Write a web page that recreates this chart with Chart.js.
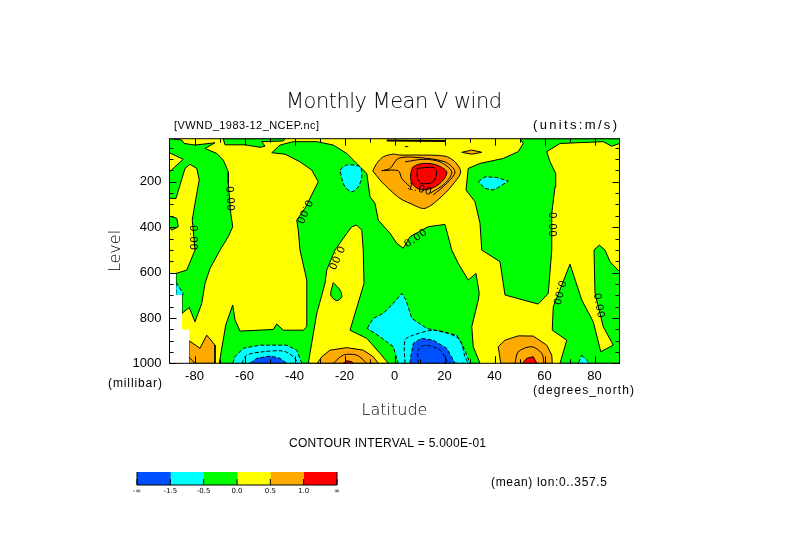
<!DOCTYPE html>
<html>
<head>
<meta charset="utf-8">
<title>Monthly Mean V wind</title>
<script src="https://cdn.jsdelivr.net/npm/chart.js@4"></script>
<style>
  body { margin: 0; background: #fff; }
  #wrap { position: relative; width: 789px; height: 558px; }
  canvas { position: absolute; display: block; }
</style>
</head>
<body>
<div id="wrap">
  <canvas id="windChart" width="789" height="558" style="left:0;top:0"></canvas>
  <canvas id="scaleChart" width="240" height="40" style="left:120px;top:460px"></canvas>
</div>
<script>
// axis ticks
const latLabels = [-80, -60, -40, -20, 0, 20, 40, 60, 80];
const levelLabels = [200, 400, 600, 800, 1000];
const latMinor = [-70, -50, -30, -10, 10, 30, 50, 70];
const levelMinor = [50, 100, 150, 250, 300, 350, 450, 500, 550, 650, 700, 750, 850, 900, 950];

// filled contour regions, [latitude, level]
const plotArea = [[-90, 10], [90, 10], [90, 1000], [-90, 1000]];
const greenWest = [[-90, 10], [-85.1, 16], [-84.2, 31], [-79.8, 38], [-71.8, 28], [-75.8, 53], [-71.1, 75], [-68.5, 104], [-66.5, 156], [-66.5, 207], [-65.5, 339], [-64.7, 398], [-66.5, 442], [-69.8, 501], [-73.8, 582], [-75.8, 648], [-77.1, 736], [-79.8, 817], [-82.1, 754], [-85, 780], [-85, 699], [-87.4, 648], [-87.4, 604], [-83.1, 589], [-79.8, 501], [-80.5, 413], [-80.9, 369], [-79.8, 295], [-78.1, 192], [-79.1, 141], [-81.8, 123], [-83.8, 141], [-87.4, 273], [-90, 273], [-90, 156], [-84.5, 101], [-90, 72]];
const greenTop = [[-68.5, 10], [-43.8, 10], [-44.5, 20], [-53.1, 23], [-51.8, 43], [-53.8, 48], [-59.8, 37], [-67.8, 37]];
const greenCentral = [[-49.1, 72], [-45.8, 38], [-40.5, 23], [-31.1, 23], [-24.5, 38], [-19.1, 75], [-15.1, 119], [-11.1, 163], [-9.8, 266], [-7.8, 295], [-6.5, 369], [-1.8, 427], [0.9, 471], [3.5, 493], [6.2, 442], [13.5, 398], [20.2, 388], [21.5, 442], [22.9, 501], [25.5, 560], [29.5, 633], [32.6, 604], [33.9, 692], [33.5, 721], [30.9, 839], [31.5, 927], [34.2, 1000], [-70.1, 1000], [-67.5, 831], [-64.7, 743], [-63.8, 809], [-61.8, 858], [-48.5, 851], [-47.1, 827], [-44.5, 854], [-36.5, 854], [-35.1, 839], [-35.1, 633], [-37.8, 501], [-38.5, 413], [-39.1, 369], [-35.8, 317], [-30.5, 200], [-33.1, 148], [-37.8, 112], [-43.8, 78]];
const yellowFinger = [[-15.1, 391], [-13.1, 413], [-12.5, 501], [-12.2, 648], [-13.8, 707], [-17.8, 854], [-11.1, 890], [-5.8, 956], [-2.5, 1000], [-34.5, 1000], [-31.1, 780], [-27.8, 648], [-27.1, 589], [-23.8, 501], [-19.1, 427], [-17.1, 398]];
const greenEast = [[50.2, 10], [51.5, 31], [49.5, 67], [43.5, 97], [34.2, 119], [29.5, 141], [28.6, 236], [32.2, 288], [34.2, 383], [34.9, 501], [42.2, 552], [44.2, 699], [57.5, 739], [61.5, 692], [62.9, 501], [62.9, 339], [64.2, 222], [64.5, 163], [62.2, 112], [60.9, 67], [66.2, 31], [83.5, 23], [86.9, 43], [90, 31], [90, 10]];
const greenFarEast = [[81.9, 479], [84.2, 501], [86.2, 552], [90, 596], [90, 1000], [66.2, 1000], [68.9, 898], [63.1, 854], [63.5, 751], [70.2, 563], [74.9, 721], [79.5, 817], [82.5, 949], [87.5, 920], [83.5, 839], [80.2, 692], [79.8, 501]];
const greenOval = [[-24.5, 645], [-21.8, 677], [-21.1, 707], [-23.1, 724], [-25.5, 699]];
const greenIslet = [[-90, 351], [-87.1, 361], [-86.5, 398], [-89.1, 413], [-90, 398]];
const cyanUpperSouth = [[-21.8, 148], [-19.1, 126], [-13.8, 134], [-13.1, 178], [-14.5, 222], [-17.1, 244], [-19.8, 222], [-21.1, 185]];
const cyanUpperNorth = [[33.5, 200], [36.2, 178], [40.9, 181], [45.5, 197], [41.5, 225], [39.5, 236], [36.2, 229]];
const cyanPole = [[-87.4, 643], [-84.5, 692], [-85, 704], [-87.4, 699]];
const cyanEquator = [[-10.9, 846], [-8.5, 802], [-4.5, 780], [-0.5, 736], [2.9, 692], [4.6, 721], [6.9, 802], [12.9, 846], [24.9, 876], [27.5, 927], [30.2, 1000], [1.5, 1000], [-0.5, 927], [-5.8, 883]];
const cyanSouth = [[-64.7, 1000], [-63.8, 971], [-60.5, 934], [-53.8, 920], [-43.1, 920], [-39.1, 942], [-37.1, 1000]];
const cyanNorth = [[74.9, 964], [78.2, 1000], [73.5, 1000]];
const blueSouth = [[-57.8, 1000], [-55.1, 978], [-49.8, 968], [-45.8, 978], [-43.1, 1000]];
const blueEquator = [[6.2, 1000], [6.5, 971], [7.5, 912], [10.9, 890], [15.5, 898], [20.9, 934], [24.2, 1000]];
const orangeUpper = [[-8.7, 151], [-7.1, 119], [-4.5, 90], [-0.5, 78], [2.2, 82], [8.9, 82], [20.2, 87], [24.2, 112], [26.5, 156], [24.2, 200], [19.5, 258], [12.2, 317], [6.2, 295], [2.2, 273], [-1.8, 236], [-5.8, 192]];
const orangeTiny = [[26.9, 70], [30.9, 60], [34.9, 70], [30.9, 78]];
const orangeWest = [[-82.1, 901], [-77.8, 934], [-75.1, 876], [-71.8, 920], [-71.8, 1000], [-82.1, 1000]];
const orangeMid = [[-30.9, 1000], [-29.1, 971], [-25.8, 942], [-19.1, 931], [-12.5, 942], [-8.5, 971], [-6.5, 1000]];
const orangeEast = [[42.5, 1000], [41.5, 927], [44.2, 898], [49.5, 879], [55.5, 880], [60.9, 920], [62.9, 964], [63.1, 1000]];
const redUpper = [[6.5, 163], [7.5, 134], [11.5, 119], [16.9, 126], [20.9, 156], [19.5, 192], [16.2, 222], [11.5, 236], [8.2, 222], [6.5, 192]];
const redMid = [[-20.5, 1000], [-19.1, 989], [-17.1, 993], [-16.5, 1000]];
const redEast = [[51.3, 1000], [52.9, 978], [55.5, 971], [56.9, 1000]];
const missingData = [[-90, 601], [-87.4, 601], [-87.4, 699], [-85, 699], [-85, 851], [-82.1, 851], [-82.1, 1000], [-90, 1000]];

// unfilled contours
const lineRedInner = [[9.1, 141], [15.5, 137], [16.9, 156], [15.5, 200], [10.5, 207], [9.1, 178], [9.1, 141]];
const lineOrangeRing = [[4.2, 112], [11.5, 101], [18.2, 112], [22.9, 156], [20.2, 207], [14.2, 251]];
const lineOrangeOuter = [[-5.1, 151], [-1.8, 141], [1.5, 97], [8, 92], [20.2, 112], [24.2, 156], [20.9, 207], [15.5, 258]];
const lineOrangeInner = [[-5.1, 151], [1.5, 151], [2.9, 185], [6.2, 222]];
const lineMid = [[-24.5, 1000], [-20.5, 964], [-15.1, 964], [-11.1, 1000]];
const lineEast = [[48.2, 1000], [49.5, 949], [54.9, 927], [58.9, 956], [59.8, 1000]];
const lineWest = [[-82.1, 974], [-79.8, 1000]];
const lineTop = [[-3.1, 18], [20.2, 20]];
const lineTopShort = [[4.2, 45], [5.5, 45]];
const dashSouth = [[-61.1, 1000], [-59.1, 964], [-52.5, 949], [-44.5, 946], [-40.5, 971], [-38.5, 1000]];
const dashEquator = [[4.2, 1000], [4.2, 898], [7.5, 876], [15.5, 854], [21.5, 868], [26.2, 898], [28.2, 971], [29.5, 1000]];
const dashEquatorInner = [[9.5, 1000], [9.5, 942], [12.2, 920], [18.2, 942], [21.5, 1000]];

// contour labels
const labelLats = [-65.8, -80.6, -36.2, -23.4, 8.6, 63, 65.8, 81.8, 10.2];
const labelLevels = [276, 448, 333, 536, 448, 390, 690, 747, 232];
const labelTexts = ['0.00', '0.00', '0.00', '0.00', '0.00', '0.00', '0.00', '0.00', '1.00'];
const labelAngles = [87, 90, 115, 115, -35, 90, 105, 80, 15];

// colour bar
const scaleBins = [1, 1, 1, 1, 1, 1];
const scaleLabels = ['-∞', '-1.5', '-0.5', '0.0', '0.5', '1.0', '∞'];

const BLUE = '#0050ff', CYAN = '#00ffff', GREEN = '#00ff00';
const YELLOW = '#ffff00', ORANGE = '#ffaa00', RED = '#ff0000';
const scaleColors = [BLUE, CYAN, GREEN, YELLOW, ORANGE, RED];
const THIN_FONT = '"DejaVu Sans ExtraLight", "DejaVu Sans"';
const SMALL_FONT = '"Liberation Sans"';

function toPoints(poly) {
  return poly.map(p => ({ x: p[0], y: p[1] }));
}
function region(poly, color, dashed, noBorder, smooth) {
  return {
    data: toPoints(poly.concat([poly[0]])),
    showLine: true, fill: 'shape', backgroundColor: color,
    borderColor: '#000', borderWidth: noBorder ? 0 : 1,
    borderDash: dashed ? [4, 2] : [], pointRadius: 0, tension: smooth ? 0.3 : 0
  };
}
function contour(line, dashed, width) {
  return {
    data: toPoints(line), showLine: true, fill: false,
    borderColor: '#000', borderWidth: width || 1,
    borderDash: dashed ? [4, 2] : [], pointRadius: 0, tension: width ? 0 : 0.3
  };
}

// painted back to front
const layers = [
  region(plotArea, YELLOW, false, true),
  region(greenWest, GREEN), region(greenTop, GREEN), region(greenCentral, GREEN),
  region(yellowFinger, YELLOW), region(greenEast, GREEN), region(greenFarEast, GREEN),
  region(greenOval, GREEN, false, false, true), region(greenIslet, GREEN),
  region(cyanUpperSouth, CYAN, true, false, true), region(cyanUpperNorth, CYAN, true), region(cyanPole, CYAN, true),
  region(cyanEquator, CYAN, true), region(cyanSouth, CYAN, true), region(cyanNorth, CYAN, true),
  region(blueSouth, BLUE, true), region(blueEquator, BLUE, true),
  region(orangeUpper, ORANGE, false, false, true), region(orangeTiny, ORANGE), region(orangeWest, ORANGE),
  region(orangeMid, ORANGE), region(orangeEast, ORANGE),
  region(redUpper, RED, false, false, true), region(redMid, RED), region(redEast, RED),
  region(missingData, '#ffffff', false, true),
  contour(lineRedInner), contour(lineOrangeRing), contour(lineOrangeOuter), contour(lineOrangeInner),
  contour(lineMid), contour(lineEast), contour(lineWest), contour(lineTop, false, 2), contour(lineTopShort),
  contour(dashSouth, true), contour(dashEquator, true), contour(dashEquatorInner, true)
];
layers.forEach((ds, i) => { ds.order = layers.length - i; });

// stretches the text between two x positions, the old plot font is wide
function fitText(ctx, text, left, right, baseline, font) {
  ctx.font = font;
  ctx.letterSpacing = '0px';
  const w = ctx.measureText(text).width;
  ctx.letterSpacing = ((right - left - w) / (text.length - 1)) + 'px';
  ctx.textAlign = 'left';
  ctx.textBaseline = 'alphabetic';
  ctx.fillStyle = '#000';
  ctx.fillText(text, left, baseline);
  ctx.letterSpacing = '0px';
}

const decorations = {
  id: 'decorations',
  afterDatasetsDraw(chart) {
    const { ctx, chartArea: a, scales: { x, y } } = chart;
    ctx.save();
    ctx.strokeStyle = '#000';
    ctx.lineWidth = 1;
    ctx.beginPath();
    // inward ticks on all four sides
    const markX = (v, len) => {
      const p = Math.round(x.getPixelForValue(v)) + 0.5;
      ctx.moveTo(p, a.top); ctx.lineTo(p, a.top + len);
      ctx.moveTo(p, a.bottom); ctx.lineTo(p, a.bottom - len);
    };
    const markY = (v, len) => {
      const p = Math.round(y.getPixelForValue(v)) + 0.5;
      ctx.moveTo(a.left, p); ctx.lineTo(a.left + len, p);
      ctx.moveTo(a.right, p); ctx.lineTo(a.right - len, p);
    };
    latLabels.forEach(v => markX(v, 7));
    latMinor.forEach(v => markX(v, 4));
    levelLabels.forEach(v => markY(v, 7));
    levelMinor.forEach(v => markY(v, 4));
    ctx.stroke();
    ctx.strokeRect(a.left, a.top, a.right - a.left, a.bottom - a.top);

    // contour labels
    ctx.fillStyle = '#000';
    ctx.font = '11px ' + SMALL_FONT;
    ctx.letterSpacing = '1px';
    ctx.textAlign = 'center';
    ctx.textBaseline = 'middle';
    labelTexts.forEach((t, i) => {
      ctx.save();
      ctx.translate(x.getPixelForValue(labelLats[i]), y.getPixelForValue(labelLevels[i]));
      ctx.rotate(labelAngles[i] * Math.PI / 180);
      ctx.fillText(t, 0, 0);
      ctx.restore();
    });
    ctx.letterSpacing = '0px';

    // texts around the plot
    fitText(ctx, 'Monthly Mean V wind', 286, 502, 108, '200 21px ' + THIN_FONT);
    fitText(ctx, '[VWND_1983-12_NCEP.nc]', 174, 319, 129, '11px ' + SMALL_FONT);
    fitText(ctx, '(units:m/s)', 533, 617, 129, '13px ' + SMALL_FONT);
    fitText(ctx, '(millibar)', 108, 162, 387, '12px ' + SMALL_FONT);
    fitText(ctx, '(degrees_north)', 533, 634, 394, '12px ' + SMALL_FONT);
    fitText(ctx, 'CONTOUR INTERVAL = 5.000E-01', 289, 486, 447, '12px ' + SMALL_FONT);
    fitText(ctx, '(mean) lon:0..357.5', 491, 607, 486, '12px ' + SMALL_FONT);
    ctx.restore();
  }
};

new Chart(document.getElementById('windChart'), {
  type: 'scatter',
  data: { datasets: layers },
  options: {
    responsive: false,
    animation: false,
    events: [],
    layout: { padding: { left: 0, top: 138.7, right: 169.5, bottom: 0 } },
    plugins: { legend: { display: false }, tooltip: { enabled: false } },
    scales: {
      x: {
        type: 'linear', min: -90, max: 90,
        grid: { display: false, drawTicks: false },
        border: { display: false },
        afterBuildTicks: s => { s.ticks = latLabels.map(v => ({ value: v })); },
        afterFit: s => { s.height = 558 - 363.3; },
        ticks: { color: '#000', padding: 5, font: { family: SMALL_FONT, size: 13 }, maxRotation: 0, autoSkip: false, callback: v => String(v) },
        title: { display: true, text: 'Latitude', color: '#000', font: { family: THIN_FONT, size: 16, weight: 200 }, padding: { top: 0, bottom: 138 } }
      },
      y: {
        type: 'linear', reverse: true, min: 10, max: 1000,
        grid: { display: false, drawTicks: false },
        border: { display: false },
        afterBuildTicks: s => { s.ticks = levelLabels.map(v => ({ value: v })); },
        afterFit: s => { s.width = 169.5; },
        ticks: { color: '#000', padding: 8, font: { family: SMALL_FONT, size: 13 }, autoSkip: false, callback: v => String(v) },
        title: { display: true, text: 'Level', color: '#000', font: { family: THIN_FONT, size: 16, weight: 200 }, padding: { top: 106, bottom: 0 } }
      }
    }
  },
  plugins: [decorations]
});

const scaleTicks = {
  id: 'scaleTicks',
  afterDatasetsDraw(chart) {
    const { ctx, chartArea: a, scales: { x } } = chart;
    ctx.save();
    ctx.strokeStyle = '#000';
    ctx.lineWidth = 1;
    ctx.beginPath();
    scaleLabels.forEach((t, i) => {
      const p = x.getPixelForValue(i);
      ctx.moveTo(p, a.bottom); ctx.lineTo(p, a.bottom - 6);
    });
    ctx.moveTo(a.left, a.bottom); ctx.lineTo(a.right, a.bottom);
    ctx.moveTo(a.left, a.top); ctx.lineTo(a.left, a.bottom);
    ctx.moveTo(a.right, a.top); ctx.lineTo(a.right, a.bottom);
    ctx.stroke();
    ctx.restore();
  }
};

new Chart(document.getElementById('scaleChart'), {
  type: 'bar',
  data: {
    labels: ['V'],
    datasets: scaleColors.map((c, i) => ({
      data: [scaleBins[i]], backgroundColor: c, barPercentage: 1, categoryPercentage: 1
    }))
  },
  options: {
    indexAxis: 'y',
    responsive: false,
    animation: false,
    events: [],
    layout: { padding: { left: 17, top: 12, right: 23, bottom: 0 } },
    plugins: { legend: { display: false }, tooltip: { enabled: false } },
    scales: {
      x: {
        type: 'linear', stacked: true, min: 0, max: 6,
        grid: { display: false, drawTicks: false },
        border: { display: false },
        afterBuildTicks: s => { s.ticks = scaleLabels.map((t, i) => ({ value: i })); },
        afterFit: s => { s.height = 15; },
        ticks: { color: '#000', padding: 2, font: { family: '"DejaVu Sans"', size: 7 }, maxRotation: 0, autoSkip: false, callback: (v) => scaleLabels[v] }
      },
      y: {
        stacked: true,
        display: false
      }
    }
  },
  plugins: [scaleTicks]
});
</script>
</body>
</html>
